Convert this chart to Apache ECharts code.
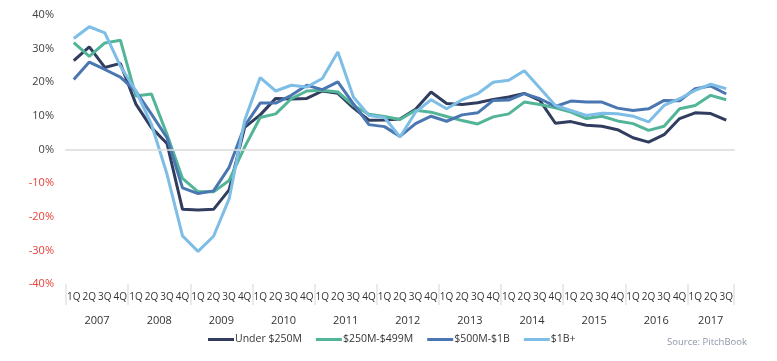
<!DOCTYPE html>
<html><head><meta charset="utf-8">
<script src="https://cdn.jsdelivr.net/npm/echarts@6/dist/echarts.min.js"></script>
<style>html,body{margin:0;padding:0;background:#fff}#c{width:777px;height:361px}</style>
</head><body><div id="c"></div>
<script>
const years = ['2007','2008','2009','2010','2011','2012','2013','2014','2015','2016','2017'];
const quarterLabels = ['1Q','2Q','3Q','4Q'];
const seriesNames = ['Under $250M','$250M-$499M','$500M-$1B','$1B+'];
const under250 = [26.4,30.5,24.4,25.6, 13.5,6.5,1.8,-17.8, -18.0,-17.8,-12.0,6.6, 10.3,15.2,15.0,15.2, 17.4,16.7,12.4,8.7, 8.8,9.1,12.0,17.1, 13.7,13.4,13.9,14.9, 15.6,16.7,14.6,7.8, 8.3,7.2,6.9,5.9, 3.5,2.2,4.4,9.2, 10.9,10.7,8.7];
const m250to499 = [31.8,27.7,31.7,32.5, 15.9,16.5,4.5,-8.6, -12.6,-12.6,-9.2,0.7, 9.5,10.6,15.1,17.4, 17.6,17.1,13.1,10.5, 9.8,8.9,11.7,11.1, 9.8,8.6,7.6,9.7, 10.6,14.1,13.4,12.4, 11.1,9.2,9.9,8.5, 7.7,5.7,6.9,12.1, 13.1,16.1,14.8];
const m500to1b = [20.8,26.0,23.8,21.5, 17.3,10.5,3.5,-11.4, -13.1,-12.3,-5.3,7.0, 13.8,13.8,16.1,19.1, 17.8,20.1,13.6,7.4, 6.8,3.9,7.7,9.9, 8.4,10.3,10.9,14.6, 14.7,16.6,15.1,12.8, 14.4,14.1,14.1,12.3, 11.6,12.1,14.6,14.5, 18.1,18.9,16.5];
const b1plus = [33.0,36.5,34.7,24.8, 17.4,7.5,-7.3,-25.7, -30.3,-25.8,-14.7,8.7, 21.4,17.4,19.1,18.6, 21.1,29.0,15.6,10.1, 9.5,3.7,11.1,14.8, 12.1,14.8,16.6,20.0, 20.6,23.4,18.3,13.1, 11.6,10.1,10.8,10.6, 9.9,8.2,13.1,15.1, 17.6,19.4,18.1];
const colors = ['#313d5e','#52b597','#4a77b2','#7dbde6'];

const categories = [];
const yearBounds = [0];
const yearCenters = [];
years.forEach(function (y) {
  const start = categories.length;
  for (let q = 0; q < quarterLabels.length && categories.length < under250.length; q++) {
    categories.push(quarterLabels[q]);
  }
  yearBounds.push(categories.length);
  yearCenters.push((start + categories.length) / 2);
});

const font = 'Open Sans';
const chart = echarts.init(document.getElementById('c'));
const dataSets = [under250, m250to499, m500to1b, b1plus];
chart.setOption({
  animation: false,
  textStyle: { fontFamily: font },
  grid: { left: 66, right: 43, top: 15, bottom: 77 },
  legend: {
    data: seriesNames,
    bottom: 11,
    left: 203,
    icon: 'rect',
    itemWidth: 26,
    itemHeight: 3,
    itemGap: 14,
    textStyle: { fontFamily: font, fontSize: 10.5, color: '#333', padding: [0, 0, 0, -4] }
  },
  title: {
    text: 'Source: PitchBook',
    right: 25,
    bottom: 9,
    textStyle: { fontFamily: font, fontSize: 9.5, fontWeight: 'normal', color: '#8c97a8' }
  },
  xAxis: [
    {
      type: 'category',
      data: categories,
      boundaryGap: true,
      axisLine: { show: true, lineStyle: { color: '#e3e3e3', width: 2 } },
      axisTick: { show: false },
      axisLabel: { interval: 0, fontSize: 10, color: '#333', margin: 8 },
      splitLine: { show: false }
    },
    {
      type: 'value',
      min: 0,
      max: categories.length,
      position: 'bottom',
      axisLine: { show: false },
      axisTick: { show: true, customValues: yearBounds, length: 21, lineStyle: { color: '#e3e3e3', width: 1.5 } },
      axisLabel: {
        customValues: yearCenters,
        margin: 31,
        fontSize: 11,
        color: '#333',
        formatter: function (v) { return years[yearCenters.indexOf(v)]; }
      },
      splitLine: { show: false }
    }
  ],
  yAxis: {
    type: 'value',
    min: -40, max: 40, interval: 10,
    axisLine: { show: false },
    axisTick: { show: false },
    splitLine: { show: false },
    axisLabel: {
      fontSize: 11,
      margin: 12,
      formatter: function (v) { return v + '%'; },
      color: function (v) { return Number(v) < 0 ? '#e8403a' : '#404040'; }
    }
  },
  series: seriesNames.map(function (name, i) {
    const s = {
      name: name,
      type: 'line',
      xAxisIndex: 0,
      data: dataSets[i],
      showSymbol: false,
      symbol: 'none',
      lineStyle: { width: 3, color: colors[i] },
      itemStyle: { color: colors[i] }
    };
    if (i === 0) {
      s.markLine = {
        silent: true, symbol: 'none', label: { show: false },
        lineStyle: { color: '#e3e3e3', type: 'solid', width: 1.5 },
        data: [{ yAxis: 0 }]
      };
    }
    return s;
  })
});
</script>
</body></html>
